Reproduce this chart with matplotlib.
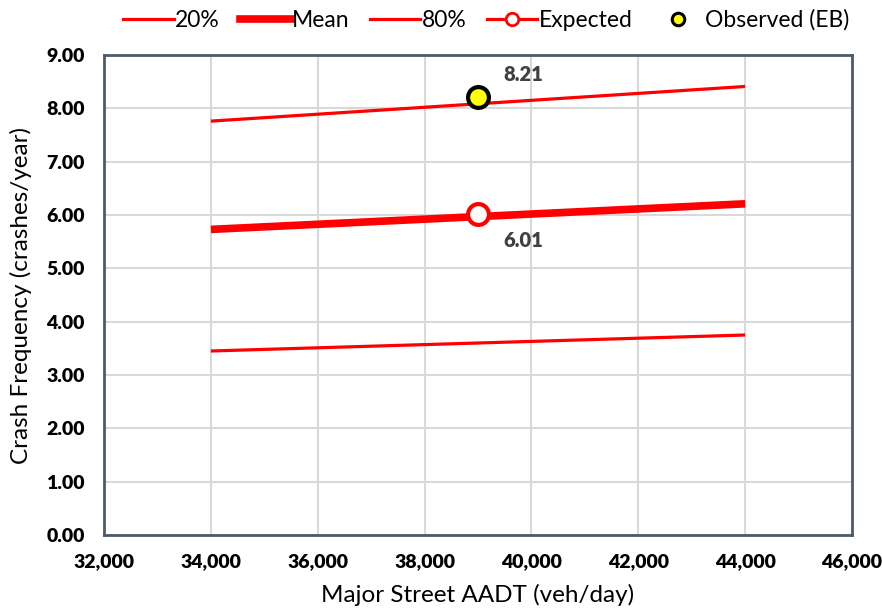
import matplotlib
matplotlib.use("Agg")
import matplotlib.pyplot as plt
from matplotlib.lines import Line2D

plt.rcParams['font.family'] = ['Lato', 'DejaVu Sans']

aadt = [34000, 44000]
p20 = [3.45, 3.75]
mean = [5.73, 6.21]
p80 = [7.76, 8.41]
site_aadt = [39000]
expected = [6.01]
observed = [8.21]

xticks = list(range(32000, 46001, 2000))
yticks = [i * 1.0 for i in range(0, 10)]

fig = plt.figure(figsize=(8.82, 6.10), dpi=100)
ax = fig.add_axes([104/882, 1-535/610, (852-104)/882, (535-55)/610])

red = '#ff0000'
ax.plot(aadt, p20, color=red, lw=2.3, label='20%', solid_capstyle='butt')
ax.plot(aadt, mean, color=red, lw=5.5, label='Mean', solid_capstyle='butt')
ax.plot(aadt, p80, color=red, lw=2.3, label='80%', solid_capstyle='butt')
ax.plot(site_aadt, expected, marker='o', ms=15, mfc='white', mec=red, mew=3, color=red, lw=2.3, zorder=5)
ax.plot(site_aadt, observed, marker='o', ms=15, mfc='#ffff00', mec='black', mew=3, ls='none', zorder=5)

ax.annotate(f"{observed[0]:.2f}", (site_aadt[0], observed[0]), xytext=(18, 16), textcoords='offset points',
            ha='left', va='center', fontsize=14.5, fontweight='heavy', color='#404040')
ax.annotate(f"{expected[0]:.2f}", (site_aadt[0], expected[0]), xytext=(18, -19), textcoords='offset points',
            ha='left', va='center', fontsize=14.5, fontweight='heavy', color='#404040')

ax.set_xlim(32000, 46000)
ax.set_ylim(0, 9)
ax.set_xticks(xticks)
ax.set_xticklabels([f"{x:,}" for x in xticks], fontsize=14, fontweight='heavy')
ax.set_yticks(yticks)
ax.set_yticklabels([f"{y:.2f}" for y in yticks], fontsize=14, fontweight='heavy')
ax.tick_params(axis='x', length=0, pad=13)
ax.tick_params(axis='y', length=0, pad=14)
ax.grid(True, color='#d9d9d9', lw=1.5)
ax.set_axisbelow(True)
for s in ax.spines.values():
    s.set_color('#4d5b69')
    s.set_linewidth(2)

ax.set_xlabel('Major Street AADT (veh/day)', fontsize=17.5, labelpad=10)
ax.set_ylabel('Crash Frequency (crashes/year)', fontsize=17.5, labelpad=10)

handles = [
    Line2D([], [], color=red, lw=2.3),
    Line2D([], [], color=red, lw=5.5),
    Line2D([], [], color=red, lw=2.3),
    Line2D([], [], color=red, lw=2.3, marker='o', ms=9, mfc='white', mec=red, mew=2),
    Line2D([], [], ls='none', marker='o', ms=9, mfc='#ffff00', mec='black', mew=2.2),
]
labels = ['20%', 'Mean', '80%', 'Expected', 'Observed (EB)']
fig.legend(handles, labels, loc='center', bbox_to_anchor=(486/882, 1-20/610), ncol=5, frameon=False,
           fontsize=16.5, handlelength=2.2, columnspacing=0.9, handletextpad=0.05)

fig.savefig('out.png', dpi=100)
